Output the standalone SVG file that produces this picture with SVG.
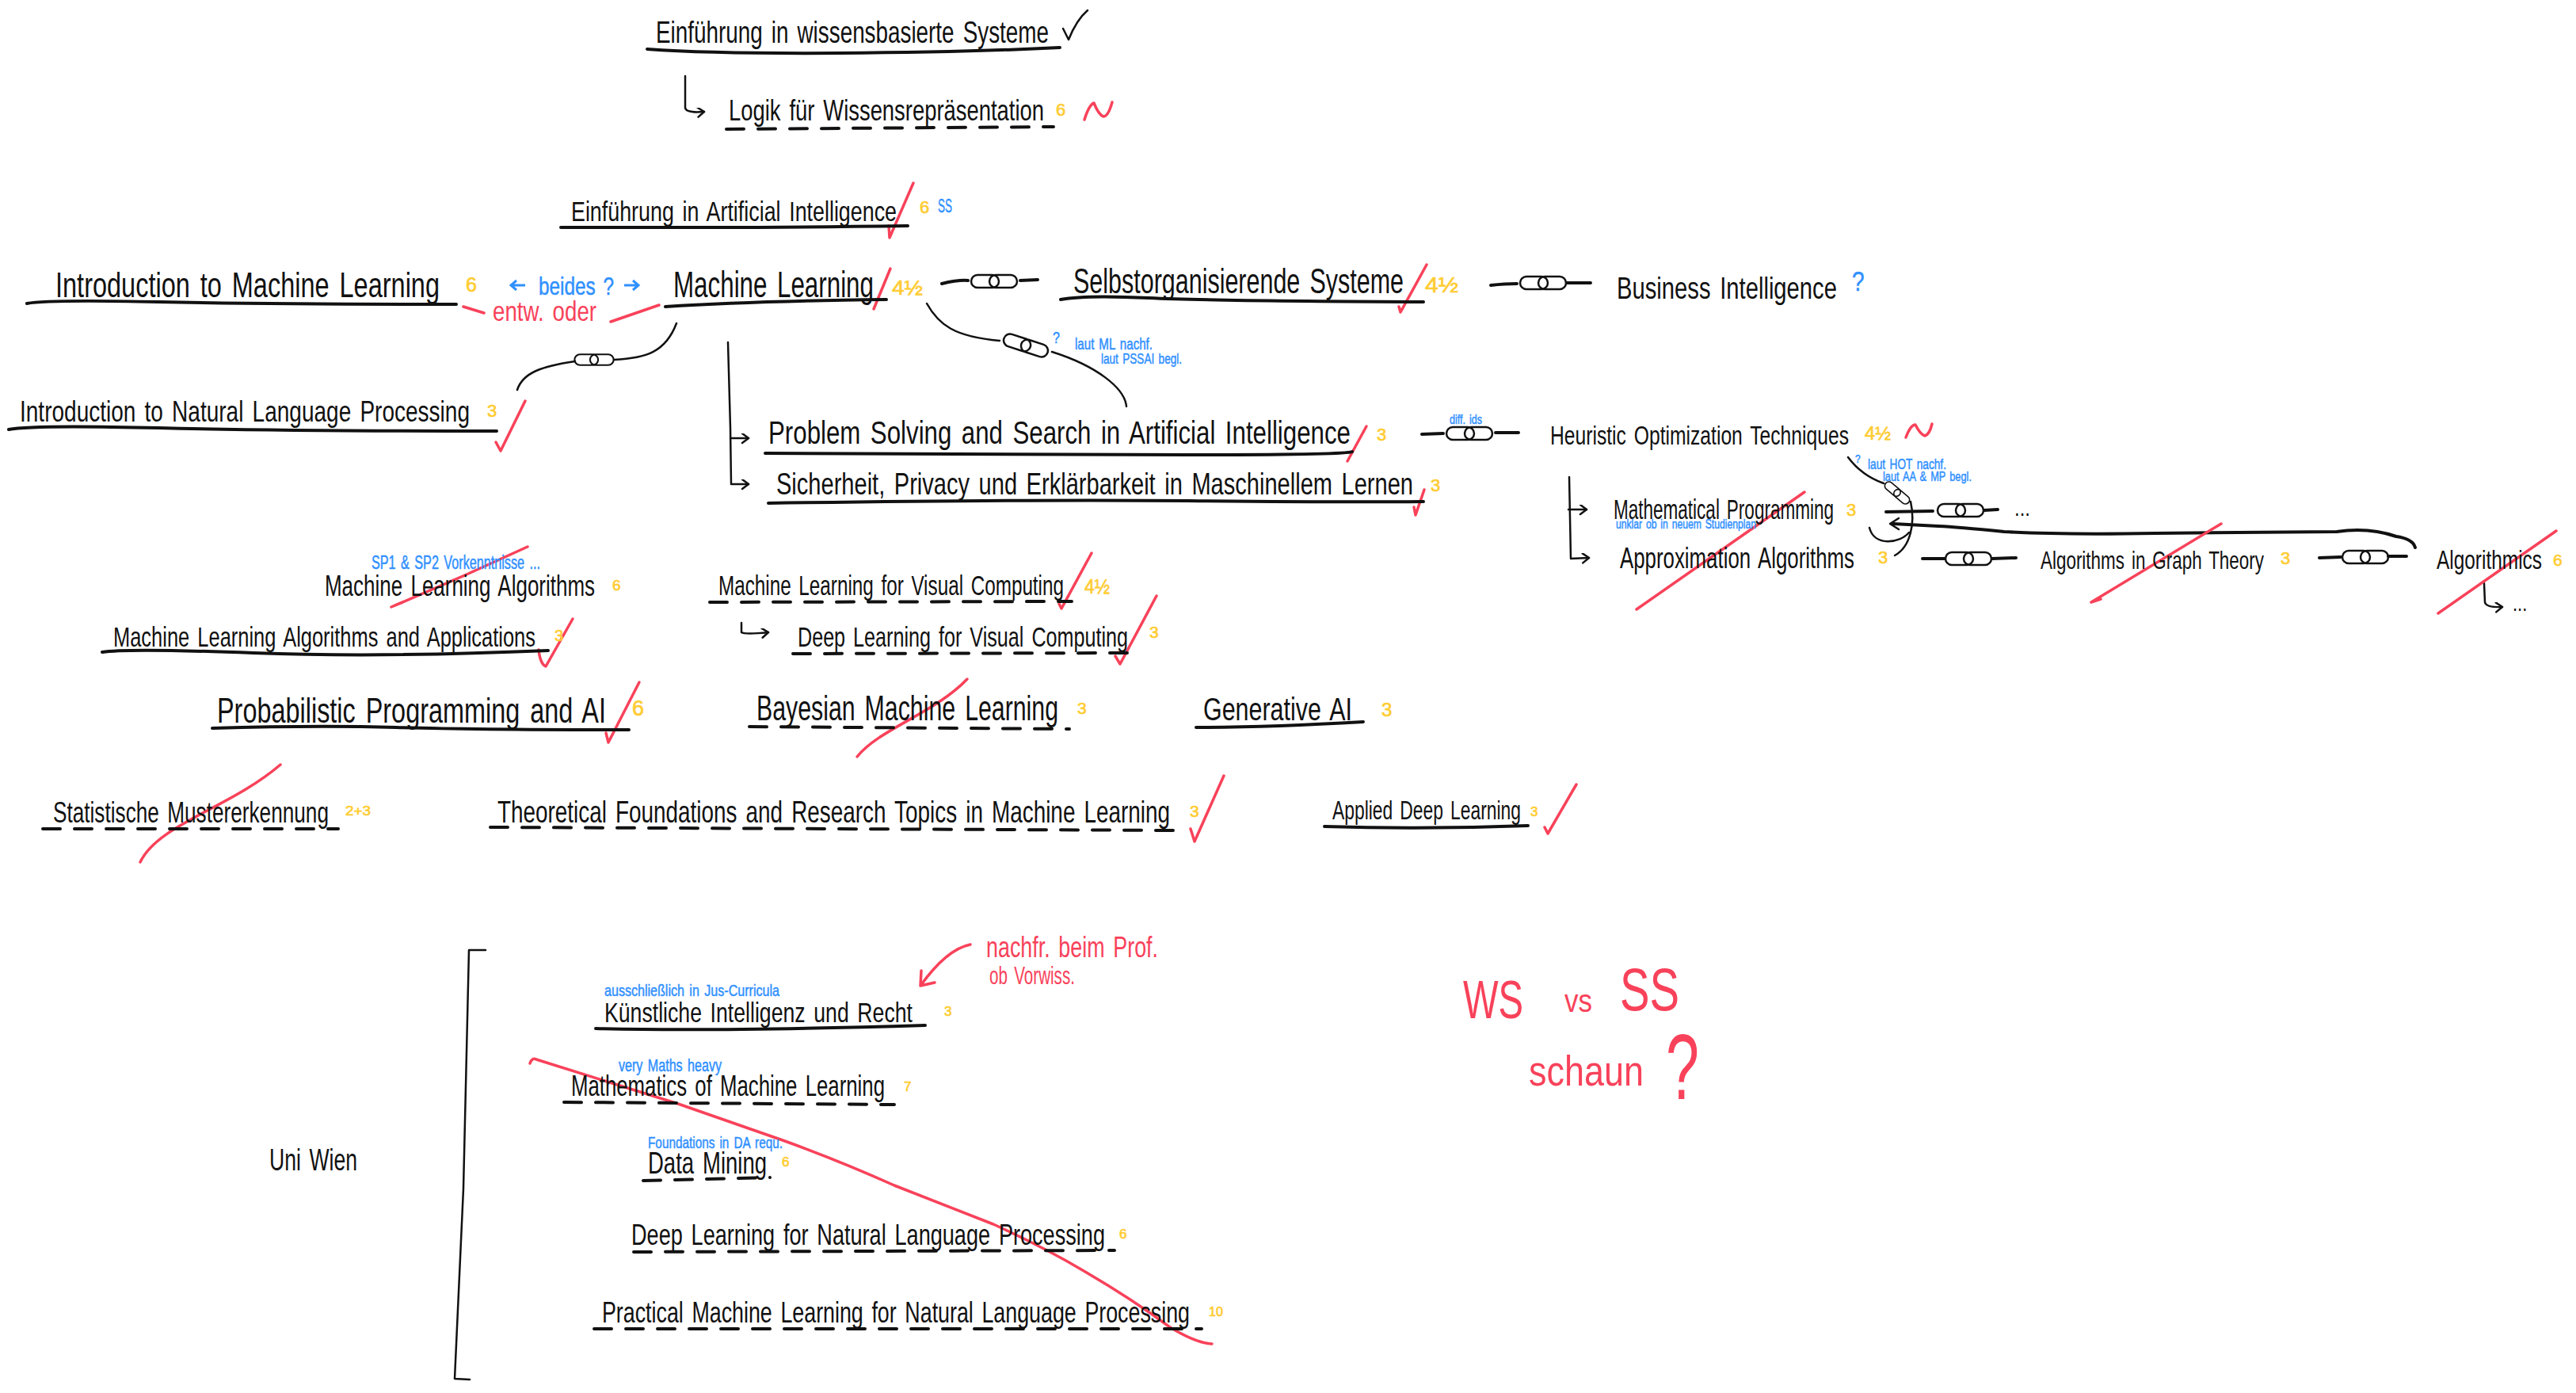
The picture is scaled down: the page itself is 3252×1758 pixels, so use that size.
<svg xmlns="http://www.w3.org/2000/svg" width="3252" height="1758" viewBox="0 0 3252 1758">
<style>
text{font-family:"Liberation Sans Narrow","Liberation Sans",Arial,sans-serif;word-spacing:.12em}
.k,.b,.r{transform-box:fill-box;transform-origin:0 100%;transform:scaleY(1.22)}
.k{fill:#111}
.y{fill:#ffcc33;stroke:#ffcc33;stroke-width:.7}
.b{fill:#2f90ff;stroke:#2f90ff;stroke-width:.4}
.r{fill:#f8425a}
.u,.d,.l,.m,.x{fill:none;stroke-linecap:round;stroke-linejoin:round}
.u{stroke:#111;stroke-width:4}
.d{stroke:#111;stroke-width:4;stroke-dasharray:22 18}
.l{stroke:#111;stroke-width:2.5}
.m{stroke:#111;stroke-width:4}
.x{stroke:#f8425a;stroke-width:3.5}
</style>
<defs>
<g id="chain"><rect x="-29" y="-8" width="35" height="16" rx="8" class="l"/><rect x="-6" y="-8" width="35" height="16" rx="8" class="l"/></g>
<marker id="ah" markerWidth="12" markerHeight="14" refX="10" refY="6" orient="auto" markerUnits="userSpaceOnUse"><path d="M2 0L10 6L2 12" class="l"/></marker>
</defs>
<rect width="3252" height="1758" fill="#fff"/>
<g id="connectors">
<path class="l" d="M865 96L865 136Q866 143 889 141" marker-end="url(#ah)"/>
<path class="l" d="M919 432L922 540L923 611L945 611" marker-end="url(#ah)"/>
<path class="l" d="M922 553L945 553" marker-end="url(#ah)"/>
<path class="l" d="M854 408C840 445 815 452 775 454M726 456C685 462 660 470 653 492"/><g transform="translate(750 454) scale(.85)"><use href="#chain"/></g>
<path class="m" d="M1189 358Q1210 353 1222 354M1288 354L1310 353"/><use href="#chain" x="1255" y="355"/>
<path class="m" d="M1882 360Q1900 358 1915 358M1978 357L2008 357"/><use href="#chain" x="1948" y="357"/>
<path class="l" d="M1170 383C1185 410 1205 425 1262 430M1328 444C1385 462 1420 490 1422 513"/><g transform="translate(1295 436) rotate(18)"><use href="#chain"/></g>
<path class="m" d="M1795 548L1822 547M1888 546L1917 546"/><use href="#chain" x="1855" y="547"/>
<path class="l" d="M1981 602L1983 705L2006 704" marker-end="url(#ah)"/>
<path class="l" d="M1980 643L2003 643" marker-end="url(#ah)"/>
<path class="l" d="M2333 577Q2350 600 2378 610"/><g transform="translate(2395 622) rotate(40) scale(.65)"><use href="#chain"/></g>
<path class="l" d="M2412 633C2418 660 2412 690 2392 701"/>
<path class="l" d="M2360 666C2366 690 2398 686 2410 672"/>
<path class="m" d="M2381 646L2440 645M2505 644L2522 643"/><use href="#chain" x="2475" y="644"/>
<path class="m" d="M3049 691Q3046 680 3025 677Q2990 665 2950 671L2721 673Q2600 675 2530 671Q2470 665 2447 664L2390 661"/>
<path class="l" d="M2397 654L2386 661L2397 668"/>
<path class="m" d="M2427 705L2455 705M2515 705L2545 704"/><use href="#chain" x="2485" y="705"/>
<path class="m" d="M2928 704L2955 703M3015 702L3038 702"/><use href="#chain" x="2986" y="703"/>
<path class="l" d="M3136 736L3137 760Q3138 767 3159 766" marker-end="url(#ah)"/>
<path class="l" d="M936 786L936 798Q940 801 970 798" marker-end="url(#ah)"/>
<path class="l" d="M613 1199L592 1199L585 1500L574 1740L593 1741"/>
</g>
<g id="annotations">
<path class="x" d="M1369 151Q1375 132 1381 130Q1387 145 1393 147Q1399 147 1404 129"/>
<path class="x" d="M2406 552Q2412 536 2418 536Q2424 548 2430 550Q2436 548 2439 535"/>
<path class="l" d="M1342 36L1349 50Q1359 25 1373 13"/>
<path class="x" d="M1153 231L1123 300L1122 285"/>
<path class="x" d="M1124 339L1103 390"/>
<path class="x" d="M585 387L611 395M771 406L832 385"/>
<path class="x" d="M663 506L632 569L626 558"/>
<path class="x" d="M1801 334L1768 394L1766 387"/>
<path class="x" d="M1725 538L1701 582"/>
<path class="x" d="M1798 618L1787 650L1785 640"/>
<path class="x" d="M666 690Q580 730 494 766"/>
<path class="x" d="M723 781L689 841Q682 838 680 820"/>
<path class="x" d="M807 861L768 937L765 925"/>
<path class="x" d="M354 965C290 1020 200 1040 177 1088"/>
<path class="x" d="M1378 698L1340 768L1337 762"/>
<path class="x" d="M1460 752L1414 838L1408 828"/>
<path class="x" d="M1221 857C1180 900 1110 920 1082 955"/>
<path class="x" d="M1545 979L1508 1062L1503 1046"/>
<path class="x" d="M1990 990L1954 1052L1950 1044"/>
<path class="x" d="M2278 621L2066 769"/>
<path class="x" d="M2804 661L2640 760L2652 756"/>
<path class="x" d="M3227 670L3078 774"/>
<path class="x" d="M1225 1192Q1195 1198 1162 1244L1163 1225M1162 1244L1180 1240"/>
<path class="x" d="M669 1342Q672 1334 677 1337Q750 1360 856 1393Q920 1415 988 1439Q1060 1465 1129 1496Q1190 1520 1254 1545Q1320 1575 1370 1605Q1430 1640 1477 1675Q1510 1695 1530 1696"/>
</g>
<g id="n01"><text class="k" x="828" y="56" font-size="32" textLength="496" lengthAdjust="spacingAndGlyphs">Einführung in wissensbasierte Systeme</text><path class="u" d="M817 62Q900 68 1060 67T1338 60"/></g>
<g id="n02"><text class="k" x="920" y="153" font-size="31" textLength="398" lengthAdjust="spacingAndGlyphs">Logik für Wissensrepräsentation</text><path class="d" d="M917 163L1330 160"/><text class="y" x="1333" y="146" font-size="22">6</text></g>
<g id="n03"><text class="k" x="721" y="280" font-size="28" textLength="411" lengthAdjust="spacingAndGlyphs">Einführung in Artificial Intelligence</text><path class="u" d="M708 287Q800 287 900 287T1146 285"/><text class="y" x="1161" y="269" font-size="22">6</text><text class="b" x="1184" y="269" font-size="20" textLength="18" lengthAdjust="spacingAndGlyphs">SS</text></g>
<g id="n04"><text class="k" x="70" y="377" font-size="36" textLength="485" lengthAdjust="spacingAndGlyphs">Introduction to Machine Learning</text><path class="u" d="M34 383Q60 378 200 381T576 384"/><text class="y" x="588" y="368" font-size="25">6</text></g>
<g id="n05"><text class="b" x="680" y="373" font-size="25" textLength="95" lengthAdjust="spacingAndGlyphs">beides ?</text><path d="M663 360L645 360M652 354L645 360L652 366M788 360L806 360M799 354L806 360L799 366" fill="none" stroke="#2f90ff" stroke-width="3"/><text class="r" x="622" y="406" font-size="29" textLength="131" lengthAdjust="spacingAndGlyphs">entw. oder</text></g>
<g id="n06"><text class="k" x="850" y="377" font-size="38" textLength="253" lengthAdjust="spacingAndGlyphs">Machine Learning</text><path class="u" d="M840 387Q950 380 1119 378"/><text class="y" x="1126" y="372" font-size="26" textLength="39" lengthAdjust="spacingAndGlyphs">4½</text></g>
<g id="n07"><text class="k" x="1355" y="372" font-size="36" textLength="417" lengthAdjust="spacingAndGlyphs">Selbstorganisierende Systeme</text><path class="u" d="M1339 378Q1370 372 1450 376T1797 381"/><text class="y" x="1799" y="369" font-size="27" textLength="42" lengthAdjust="spacingAndGlyphs">4½</text></g>
<g id="n08"><text class="k" x="2041" y="379" font-size="32" textLength="278" lengthAdjust="spacingAndGlyphs">Business Intelligence</text><text class="b" x="2338" y="368" font-size="28">?</text></g>
<g id="n09"><text class="b" x="1329" y="434" font-size="16">?</text><text class="b" x="1357" y="442" font-size="16" textLength="98" lengthAdjust="spacingAndGlyphs">laut ML nachf.</text><text class="b" x="1390" y="460" font-size="15" textLength="102" lengthAdjust="spacingAndGlyphs">laut PSSAI begl.</text></g>
<g id="n10"><text class="k" x="25" y="533" font-size="31" textLength="568" lengthAdjust="spacingAndGlyphs">Introduction to Natural Language Processing</text><path class="u" d="M11 542Q40 536 200 540T627 544"/><text class="y" x="615" y="526" font-size="22">3</text></g>
<g id="n11"><text class="k" x="970" y="562" font-size="33" textLength="735" lengthAdjust="spacingAndGlyphs">Problem Solving and Search in Artificial Intelligence</text><path class="u" d="M966 572Q1300 574 1500 574T1707 570"/><text class="y" x="1738" y="556" font-size="22">3</text></g>
<g id="n12"><text class="k" x="980" y="626" font-size="32" textLength="804" lengthAdjust="spacingAndGlyphs">Sicherheit, Privacy und Erklärbarkeit in Maschinellem Lernen</text><path class="u" d="M970 635Q1300 630 1500 632T1797 633"/><text class="y" x="1806" y="620" font-size="22">3</text></g>
<g id="n13"><text class="b" x="1830" y="536" font-size="14" textLength="41" lengthAdjust="spacingAndGlyphs">diff. ids</text></g>
<g id="n14"><text class="k" x="1957" y="562" font-size="27" textLength="377" lengthAdjust="spacingAndGlyphs">Heuristic Optimization Techniques</text><text class="y" x="2354" y="555" font-size="24" textLength="33" lengthAdjust="spacingAndGlyphs">4½</text></g>
<g id="n15"><text class="b" x="2342" y="585" font-size="12">?</text><text class="b" x="2358" y="593" font-size="15" textLength="99" lengthAdjust="spacingAndGlyphs">laut HOT nachf.</text><text class="b" x="2377" y="608" font-size="14" textLength="112" lengthAdjust="spacingAndGlyphs">laut AA &amp; MP begl.</text></g>
<g id="n16"><text class="k" x="2037" y="656" font-size="28" textLength="278" lengthAdjust="spacingAndGlyphs">Mathematical Programming</text><text class="b" x="2040" y="668" font-size="14" textLength="177" lengthAdjust="spacingAndGlyphs">unklar ob in neuem Studienplan</text><text class="y" x="2331" y="651" font-size="22">3</text><text class="k" x="2543" y="652" font-size="24">...</text></g>
<g id="n17"><text class="k" x="2045" y="718" font-size="30" textLength="296" lengthAdjust="spacingAndGlyphs">Approximation Algorithms</text><text class="y" x="2371" y="711" font-size="22">3</text></g>
<g id="n18"><text class="k" x="2576" y="719" font-size="25" textLength="282" lengthAdjust="spacingAndGlyphs">Algorithms in Graph Theory</text><text class="y" x="2879" y="712" font-size="22">3</text></g>
<g id="n19"><text class="k" x="3076" y="719" font-size="27" textLength="133" lengthAdjust="spacingAndGlyphs">Algorithmics</text><text class="y" x="3223" y="714" font-size="21">6</text><text class="k" x="3172" y="772" font-size="22">...</text></g>
<g id="n20"><text class="k" x="410" y="753" font-size="30" textLength="341" lengthAdjust="spacingAndGlyphs">Machine Learning Algorithms</text><text class="b" x="469" y="719" font-size="19" textLength="213" lengthAdjust="spacingAndGlyphs">SP1 &amp; SP2 Vorkenntnisse ...</text><text class="y" x="773" y="745" font-size="19">6</text></g>
<g id="n21"><text class="k" x="143" y="817" font-size="29" textLength="533" lengthAdjust="spacingAndGlyphs">Machine Learning Algorithms and Applications</text><path class="u" d="M129 823Q160 818 320 824T692 821"/><text class="y" x="700" y="809" font-size="20">3</text></g>
<g id="n22"><text class="k" x="274" y="914" font-size="36" textLength="491" lengthAdjust="spacingAndGlyphs">Probabilistic Programming and AI</text><path class="u" d="M268 919Q400 915 500 918T794 921"/><text class="y" x="798" y="903" font-size="27">6</text></g>
<g id="n23"><text class="k" x="67" y="1039" font-size="30" textLength="348" lengthAdjust="spacingAndGlyphs">Statistische Mustererkennung</text><path class="d" d="M54 1046L427 1046"/><text class="y" x="436" y="1029" font-size="17" textLength="32" lengthAdjust="spacingAndGlyphs">2+3</text></g>
<g id="n24"><text class="k" x="907" y="752" font-size="28" textLength="436" lengthAdjust="spacingAndGlyphs">Machine Learning for Visual Computing</text><path class="d" d="M896 760L1353 759"/><text class="y" x="1369" y="749" font-size="25" textLength="32" lengthAdjust="spacingAndGlyphs">4½</text></g>
<g id="n25"><text class="k" x="1007" y="817" font-size="29" textLength="417" lengthAdjust="spacingAndGlyphs">Deep Learning for Visual Computing</text><path class="d" d="M1001 825L1428 824"/><text class="y" x="1451" y="805" font-size="21">3</text></g>
<g id="n26"><text class="k" x="955" y="911" font-size="36" textLength="381" lengthAdjust="spacingAndGlyphs">Bayesian Machine Learning</text><path class="d" d="M946 917L1350 920"/><text class="y" x="1360" y="901" font-size="21">3</text></g>
<g id="n27"><text class="k" x="1519" y="911" font-size="34" textLength="188" lengthAdjust="spacingAndGlyphs">Generative AI</text><path class="u" d="M1510 918Q1600 918 1721 911"/><text class="y" x="1744" y="904" font-size="24">3</text></g>
<g id="n28"><text class="k" x="628" y="1040" font-size="32" textLength="849" lengthAdjust="spacingAndGlyphs">Theoretical Foundations and Research Topics in Machine Learning</text><path class="d" d="M619 1044L1485 1048"/><text class="y" x="1502" y="1031" font-size="21">3</text></g>
<g id="n29"><text class="k" x="1682" y="1035" font-size="27" textLength="238" lengthAdjust="spacingAndGlyphs">Applied Deep Learning</text><path class="u" d="M1672 1043Q1800 1047 1929 1042"/><text class="y" x="1932" y="1030" font-size="17">3</text></g>
<g id="n30"><text class="k" x="340" y="1479" font-size="32" textLength="111" lengthAdjust="spacingAndGlyphs">Uni Wien</text></g>
<g id="n31"><text class="b" x="763" y="1258" font-size="17" textLength="221" lengthAdjust="spacingAndGlyphs">ausschließlich in Jus-Curricula</text><text class="k" x="763" y="1291" font-size="29" textLength="389" lengthAdjust="spacingAndGlyphs">Künstliche Intelligenz und Recht</text><path class="u" d="M752 1298Q900 1302 1168 1294"/><text class="y" x="1192" y="1282" font-size="17">3</text></g>
<g id="n32"><text class="r" x="1245" y="1209" font-size="30" textLength="217" lengthAdjust="spacingAndGlyphs">nachfr. beim Prof.</text><text class="r" x="1249" y="1243" font-size="26" textLength="108" lengthAdjust="spacingAndGlyphs">ob Vorwiss.</text></g>
<g id="n33"><text class="b" x="781" y="1353" font-size="18" textLength="130" lengthAdjust="spacingAndGlyphs">very Maths heavy</text><text class="k" x="721" y="1384" font-size="30" textLength="396" lengthAdjust="spacingAndGlyphs">Mathematics of Machine Learning</text><path class="d" d="M712 1391L1129 1394"/><text class="y" x="1141" y="1377" font-size="17">7</text></g>
<g id="n34"><text class="b" x="818" y="1450" font-size="17" textLength="170" lengthAdjust="spacingAndGlyphs">Foundations in DA requ.</text><text class="k" x="818" y="1483" font-size="32" textLength="150" lengthAdjust="spacingAndGlyphs">Data Mining</text><path class="d" d="M812 1490L972 1486"/><text class="y" x="987" y="1472" font-size="17">6</text></g>
<g id="n35"><text class="k" x="797" y="1572" font-size="31" textLength="598" lengthAdjust="spacingAndGlyphs">Deep Learning for Natural Language Processing</text><path class="d" d="M800 1580L1407 1578"/><text class="y" x="1413" y="1563" font-size="17">6</text></g>
<g id="n36"><text class="k" x="760" y="1670" font-size="30" textLength="742" lengthAdjust="spacingAndGlyphs">Practical Machine Learning for Natural Language Processing</text><path class="d" d="M750 1677L1517 1677"/><text class="y" x="1526" y="1661" font-size="16">10</text></g>
<g id="n37"><text class="r" x="1847" y="1288" font-size="56" textLength="76" lengthAdjust="spacingAndGlyphs">WS</text><text class="r" x="1975" y="1279" font-size="34" textLength="35" lengthAdjust="spacingAndGlyphs">vs</text><text class="r" x="2045" y="1278" font-size="62" textLength="75" lengthAdjust="spacingAndGlyphs">SS</text><text class="r" x="1930" y="1372" font-size="44" textLength="145" lengthAdjust="spacingAndGlyphs">schaun</text><text class="r" x="2103" y="1392" font-size="96" textLength="42" lengthAdjust="spacingAndGlyphs">?</text></g>
</svg>
